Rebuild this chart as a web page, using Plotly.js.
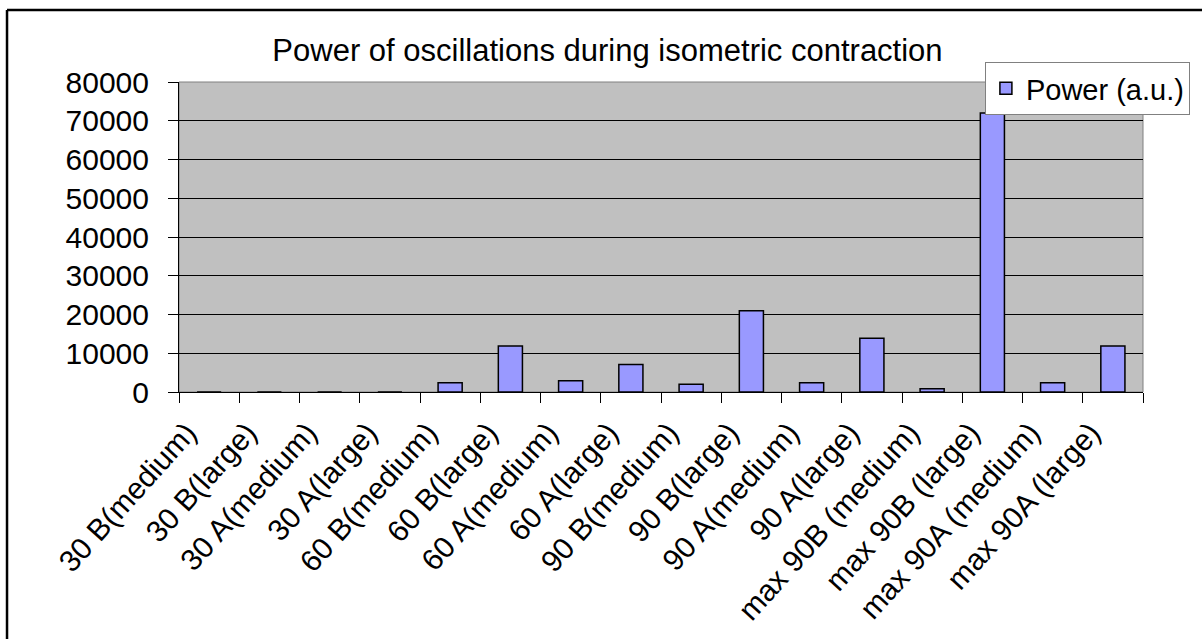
<!DOCTYPE html>
<html>
<head>
<meta charset="utf-8">
<script src="https://cdn.plot.ly/plotly-3.0.1.min.js"></script>
<style>
html, body { margin: 0; padding: 0; background: #ffffff; }
#chart { width: 1202px; height: 639px; }
</style>
</head>
<body>
<div id="chart"></div>
<script>
const categories = [
  "30 B(medium)", "30 B(large)", "30 A(medium)", "30 A(large)",
  "60 B(medium)", "60 B(large)", "60 A(medium)", "60 A(large)",
  "90 B(medium)", "90 B(large)", "90 A(medium)", "90 A(large)",
  "max 90B (medium)", "max 90B (large)", "max 90A (medium)", "max 90A (large)"
];
const powerValues = [
  0, 0, 0, 0,
  2400, 11900, 2900, 7100,
  2000, 21000, 2400, 13900,
  850, 72000, 2400, 11900
];
const seriesName = "Power (a.u.)";
const chartTitle = "Power of oscillations during isometric contraction";
const yTickValues = [0, 10000, 20000, 30000, 40000, 50000, 60000, 70000, 80000];

const FONT = "Liberation Sans, Arial, sans-serif";

const trace = {
  type: "bar",
  x: categories,
  y: powerValues,
  name: seriesName,
  marker: { color: "#9999FF", line: { color: "#000000", width: 1.5 } },
  showlegend: true,
  hoverinfo: "x+y"
};

const layout = {
  width: 1202,
  height: 639,
  margin: { l: 179, r: 59, t: 82, b: 247, pad: 0 },
  paper_bgcolor: "#ffffff",
  plot_bgcolor: "#C0C0C0",
  font: { family: FONT, size: 30, color: "#000000" },
  title: {
    text: chartTitle,
    font: { family: FONT, size: 31, color: "#000000" },
    x: 0.5054, xanchor: "center", xref: "container",
    y: 0.922, yanchor: "middle", yref: "container"
  },
  bargap: 0.6,
  showlegend: true,
  legend: {
    x: 0.836, xanchor: "left",
    y: 1.0645, yanchor: "top",
    bgcolor: "#ffffff",
    bordercolor: "#808080",
    borderwidth: 1,
    font: { family: FONT, size: 29, color: "#000000" },
    itemwidth: 30
  },
  xaxis: {
    type: "category",
    tickangle: -48,
    tickson: "boundaries",
    ticks: "outside",
    ticklen: 10,
    tickcolor: "#000000",
    tickwidth: 1,
    ticklabelshift: -22,
    ticklabelstandoff: 10,
    showline: true,
    linecolor: "#000000",
    linewidth: 1,
    showgrid: false,
    zeroline: false,
    tickfont: { family: FONT, size: 30, color: "#000000" },
    automargin: false
  },
  yaxis: {
    range: [0, 80000],
    tickvals: yTickValues,
    tickformat: "d",
    ticks: "outside",
    ticklen: 10,
    tickcolor: "#000000",
    tickwidth: 1,
    ticklabelstandoff: 13,
    showline: true,
    linecolor: "#000000",
    linewidth: 1,
    showgrid: true,
    gridcolor: "#000000",
    gridwidth: 1,
    zeroline: false,
    tickfont: { family: FONT, size: 30, color: "#000000" },
    automargin: false
  },
  shapes: [
    { type: "rect", xref: "paper", yref: "paper", x0: 0, x1: 1, y0: 0, y1: 1,
      line: { color: "#808080", width: 1 }, layer: "below" },
    { type: "line", xref: "paper", yref: "paper", x0: -0.1784, x1: 1.07, y0: 1.2323, y1: 1.2323,
      line: { color: "#000000", width: 2.5 } },
    { type: "line", xref: "paper", yref: "paper", x0: -0.1784, x1: -0.1784, y0: 1.2323, y1: -0.82,
      line: { color: "#000000", width: 2.5 } }
  ]
};

Plotly.newPlot("chart", [trace], layout, { displayModeBar: false, staticPlot: true });
</script>
</body>
</html>
